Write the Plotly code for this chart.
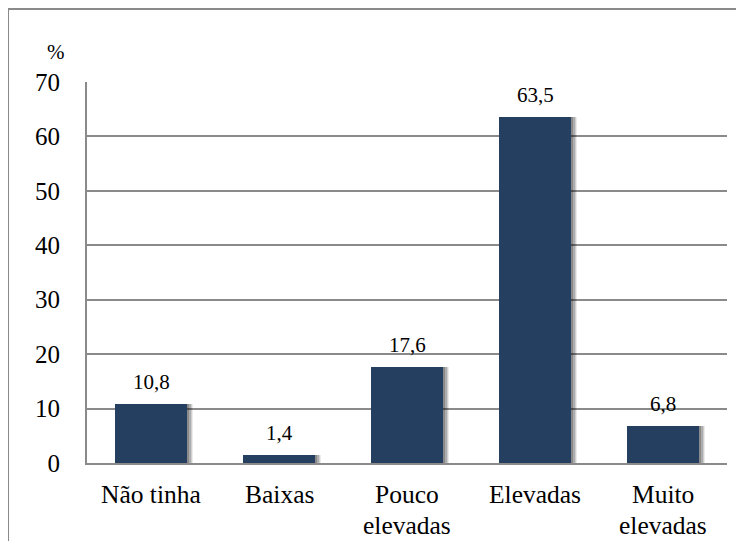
import plotly.graph_objects as go

categories = ["Não tinha", "Baixas", "Pouco<br>elevadas", "Elevadas", "Muito<br>elevadas"]
values = [10.8, 1.4, 17.6, 63.5, 6.8]
labels = ["10,8", "1,4", "17,6", "63,5", "6,8"]
y_ticks = [0, 10, 20, 30, 40, 50, 60, 70]

FONT = "'Times New Roman', 'Liberation Serif', serif"
BAR = "#253f60"

xs = list(range(len(categories)))
fig = go.Figure()

# soft shadow layers
for off, op in [(0.045, 0.08), (0.035, 0.12), (0.025, 0.16), (0.015, 0.20)]:
    fig.add_trace(go.Bar(x=xs, y=values, width=0.57, offset=-0.285 + off,
                         marker=dict(color=f"rgba(0,0,0,{op})", line=dict(width=0)),
                         hoverinfo="skip", showlegend=False))

fig.add_trace(go.Bar(x=xs, y=values, width=0.57, offset=-0.285,
                     marker=dict(color=BAR, line=dict(width=0)), showlegend=False))

for x, v, t in zip(xs, values, labels):
    fig.add_annotation(x=x, y=v, text=t, showarrow=False, yanchor="middle", yshift=22,
                       font=dict(family=FONT, size=21, color="black"))

# category labels (each line placed separately for tighter line spacing)
for x, cat in zip(xs, categories):
    for i, line in enumerate(cat.split("<br>")):
        fig.add_annotation(x=x, xref="x", y=0, yref="paper", text=line, showarrow=False,
                           xanchor="center", yanchor="middle", yshift=-31 - 31 * i,
                           font=dict(family=FONT, size=25.5, color="black"))

fig.add_annotation(xref="paper", yref="paper", x=-0.048, y=1.079, text="%", showarrow=False,
                   xanchor="center", yanchor="middle", font=dict(family=FONT, size=21, color="black"))

# outer frame
fig.add_shape(type="rect", xref="paper", yref="paper", x0=-0.1234, y0=-0.4, x1=1.2, y1=1.1916,
              line=dict(color="#8a8a8a", width=2), fillcolor="rgba(0,0,0,0)", layer="below")

fig.update_layout(
    width=736, height=533,
    margin=dict(l=79, r=17, t=74, b=78),
    paper_bgcolor="white", plot_bgcolor="white",
    barmode="overlay", bargap=0,
    font=dict(family=FONT, color="black"),
    xaxis=dict(tickmode="array", tickvals=xs, range=[-0.5, 4.5], showticklabels=False,
               showgrid=False, showline=True, linecolor="#8a8a8a", linewidth=2,
               ticks="", automargin=False, zeroline=False),
    yaxis=dict(range=[0, 70], tickmode="array", tickvals=y_ticks,
               showgrid=True, gridcolor="#8a8a8a", gridwidth=1.5,
               showline=True, linecolor="#8a8a8a", linewidth=2, zeroline=False,
               ticks="", ticklabelstandoff=20, automargin=False,
               tickfont=dict(family=FONT, size=25, color="black")),
)

fig.write_html("out.html")
